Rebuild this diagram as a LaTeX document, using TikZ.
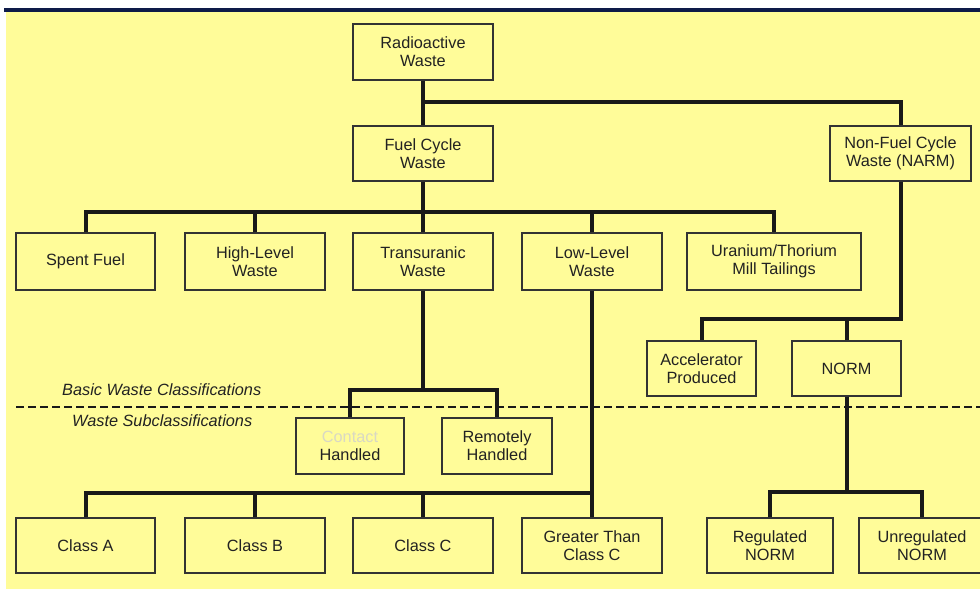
\documentclass[tikz,border=0pt]{standalone}
\usepackage{fontspec}
\setmainfont{Liberation Sans}
\definecolor{bgyel}{HTML}{FFFC99}
\definecolor{navy}{HTML}{0E1B48}
\definecolor{edge}{HTML}{333333}
\definecolor{txt}{HTML}{222222}
\definecolor{faint}{HTML}{D9D8C4}
\begin{document}
\begin{tikzpicture}[x=1pt,y=-1pt,
  box/.style={draw=edge, line width=1.4pt, fill=bgyel, inner sep=0pt, align=center,
    text=txt, font=\fontsize{16.3}{18}\selectfont},
  conn/.style={draw=black!90, line width=4pt},
  lbl/.style={anchor=west, inner sep=0pt, text=txt, font=\fontsize{16.3}{18}\selectfont\itshape}]
\useasboundingbox[fill=white] (0,0) rectangle (980,589);
\fill[bgyel] (6,11) rectangle (980,589);
\fill[navy] (4,8) rectangle (980,12);

\draw[line width=2.3pt, dash pattern=on 8pt off 4pt, black!90] (16,407) -- (980,407);
\node[lbl] (basic) at (62,390) {Basic Waste Classifications};
\node[lbl] (sub) at (72,421) {Waste Subclassifications};

% boxes
\node[box, minimum width=140pt, minimum height=56pt] (rw) at (423,52) {Radioactive\\Waste};
\node[box, minimum width=140pt, minimum height=55pt] (fcw) at (423,153.5) {Fuel Cycle\\Waste};
\node[box, minimum width=141pt, minimum height=55pt] (narm) at (900.5,153.5) {Non-Fuel Cycle\\Waste (NARM)};

\node[box, minimum width=139pt, minimum height=57pt] (sf) at (85.5,261.5) {Spent Fuel};
\node[box, minimum width=140pt, minimum height=57pt] (hl) at (255,261.5) {High-Level\\Waste};
\node[box, minimum width=140pt, minimum height=57pt] (tru) at (423,261.5) {Transuranic\\Waste};
\node[box, minimum width=140pt, minimum height=57pt] (llw) at (592,261.5) {Low-Level\\Waste};
\node[box, minimum width=174pt, minimum height=57pt] (umt) at (774,261.5) {Uranium/Thorium\\Mill Tailings};

\node[box, minimum width=109pt, minimum height=55pt] (acc) at (701.5,368.5) {Accelerator\\Produced};
\node[box, minimum width=109pt, minimum height=55pt] (norm) at (846.5,368.5) {NORM};

\node[box, minimum width=108pt, minimum height=56pt] (ch) at (350,446) {\textcolor{faint}{Contact}\\Handled};
\node[box, minimum width=110pt, minimum height=56pt] (rh) at (497,446) {Remotely\\Handled};

\node[box, minimum width=139pt, minimum height=55pt] (ca) at (85.5,545.5) {Class A};
\node[box, minimum width=140pt, minimum height=55pt] (cb) at (255,545.5) {Class B};
\node[box, minimum width=140pt, minimum height=55pt] (cc) at (423,545.5) {Class C};
\node[box, minimum width=140pt, minimum height=55pt] (gtc) at (592,545.5) {Greater Than\\Class C};
\node[box, minimum width=126pt, minimum height=55pt] (reg) at (770,545.5) {Regulated\\NORM};
\node[box, minimum width=126pt, minimum height=55pt] (unreg) at (922,545.5) {Unregulated\\NORM};

% junction points
\coordinate (j1) at (423,102);
\coordinate (b1) at (423,212);
\coordinate (b2) at (846.5,319);
\coordinate (b3) at (423,390);
\coordinate (b4) at (592,493);
\coordinate (b5) at (846.5,492);

% connectors
\draw[conn] (rw) -- (fcw);
\draw[conn] (j1) -| (narm.north);
\draw[conn] (fcw) -- (tru);
\draw[conn] (sf.north) |- (b1) -| (umt.north);
\draw[conn] (hl.north) -- (hl.north |- b1);
\draw[conn] (llw.north) -- (llw.north |- b1);
\draw[conn] (narm.south) |- (b2) -| (acc.north);
\draw[conn] (norm.north) -- (b2);
\draw[conn] (tru.south) -- (b3);
\draw[conn] (ch.north) |- (b3) -| (rh.north);
\draw[conn] (llw) -- (gtc);
\draw[conn] (ca.north) |- (b4);
\draw[conn] (cb.north) -- (cb.north |- b4);
\draw[conn] (cc.north) -- (cc.north |- b4);
\draw[conn] (norm.south) -- (b5);
\draw[conn] (reg.north) |- (b5) -| (unreg.north);
\end{tikzpicture}
\end{document}
